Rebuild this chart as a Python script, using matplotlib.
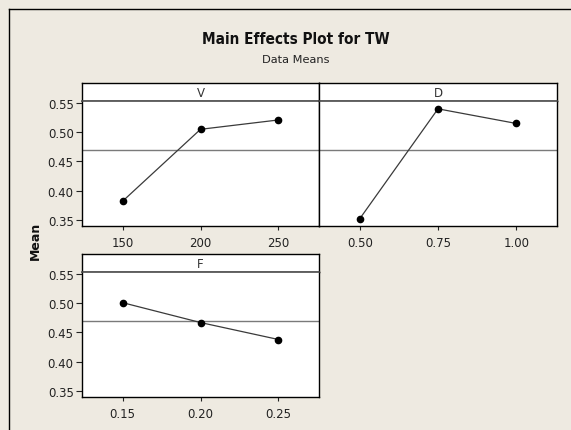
import numpy as np
import matplotlib
matplotlib.use("Agg")
import matplotlib.pyplot as plt
from matplotlib.lines import Line2D

# Factor levels and the mean response at each level
v_levels = ["150", "200", "250"]
v_means = [0.382, 0.505, 0.521]
d_levels = ["0.50", "0.75", "1.00"]
d_means = [0.352, 0.540, 0.515]
f_levels = ["0.15", "0.20", "0.25"]
f_means = [0.501, 0.467, 0.438]
grand_mean = 0.469
y_ticks = [0.35, 0.40, 0.45, 0.50, 0.55]

W, H = 571, 431
BG = "#eeeae1"
TXT = "#222222"

fig = plt.figure(figsize=(W / 100, H / 100), dpi=100, facecolor=BG)
plt.rcParams["font.family"] = ["DejaVu Sans"]


def rect(x0, y0, x1, y1):
    return [x0 / W, 1 - y1 / H, (x1 - x0) / W, (y1 - y0) / H]


# outer frame (open on right and bottom)
fig.add_artist(Line2D([9 / W, 1.0], [1 - 10 / H, 1 - 10 / H], color="black", lw=1.0))
fig.add_artist(Line2D([9 / W, 9 / W], [1 - 10 / H, 0.0], color="black", lw=1.0))


def panel(x0, x1, ytop, levels, means, name, show_y):
    strip_bot = ytop + 18
    plot_bot = strip_bot + 125
    sax = fig.add_axes(rect(x0, ytop, x1, strip_bot))
    sax.set_facecolor("white")
    sax.set_xticks([])
    sax.set_yticks([])
    for s in sax.spines.values():
        s.set_color("black")
        s.set_linewidth(1.0)
    sax.text(0.5, 0.45, name, ha="center", va="center", fontsize=8.5, color="#333333",
             transform=sax.transAxes)

    ax = fig.add_axes(rect(x0, strip_bot, x1, plot_bot))
    ax.set_facecolor("white")
    x = np.arange(len(levels))
    ax.axhline(grand_mean, color="#7a7a7a", lw=1.0, zorder=1)
    ax.plot(x, means, color="#3a3a3a", lw=0.9, zorder=2)
    ax.plot(x, means, "o", color="black", ms=4.5, zorder=3)
    ax.set_xlim(-0.52, 2.52)
    ax.set_ylim(0.3397, 0.5534)
    ax.set_xticks(x)
    ax.set_xticklabels(levels)
    ax.tick_params(axis="x", length=3, width=0.8, pad=4, labelsize=8.5, colors=TXT)
    if show_y:
        ax.set_yticks(y_ticks)
        ax.set_yticklabels([f"{t:.2f}" for t in y_ticks])
        ax.tick_params(axis="y", length=4, width=0.8, pad=2, labelsize=8.5, colors=TXT)
    else:
        ax.set_yticks([])
    for s in ax.spines.values():
        s.set_color("black")
        s.set_linewidth(1.0)
    # separator between the strip and the plotting region
    ax.spines["top"].set_color("#4a4a4a")
    ax.spines["top"].set_linewidth(1.2)
    return ax


panel(82, 319, 84, v_levels, v_means, "V", True)
panel(319, 557, 84, d_levels, d_means, "D", False)
panel(82, 319, 255, f_levels, f_means, "F", True)

fig.text(296 / W, 1 - 40 / H, "Main Effects Plot for TW", ha="center", va="center",
         fontsize=11, fontweight="bold", fontstretch="condensed", color="#111111")
fig.text(296 / W, 1 - 60 / H, "Data Means", ha="center", va="center",
         fontsize=8.2, color=TXT)
fig.text(35 / W, 1 - 241 / H, "Mean", ha="center", va="center", rotation=90,
         fontsize=9, fontweight="bold", color="#111111")

fig.savefig("out.png", dpi=100, facecolor=BG)
